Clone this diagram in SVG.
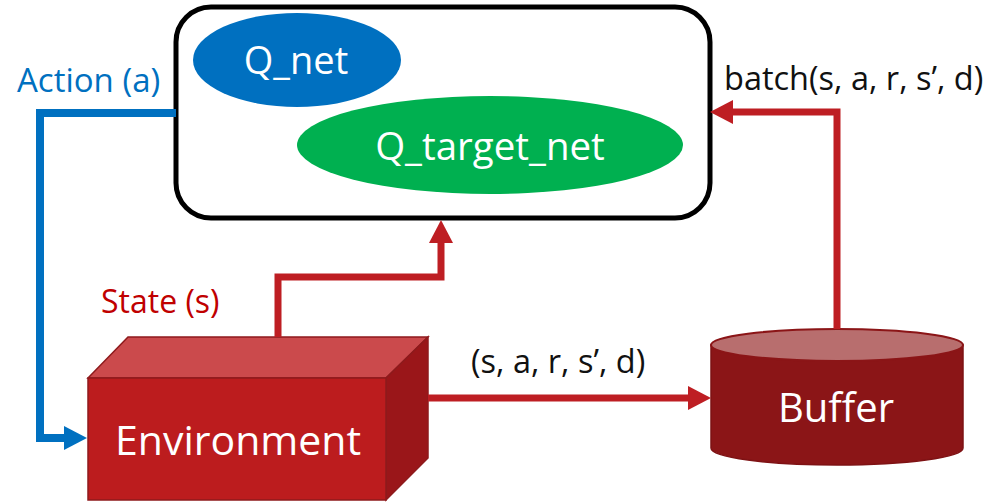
<svg xmlns="http://www.w3.org/2000/svg" width="986" height="502" viewBox="0 0 986 502">
  <style>
    .lbl { font-family: "Open Sans", "Noto Sans", "Liberation Sans", sans-serif; }
    .wht { fill: #ffffff; }
    .blk { fill: #111111; }
    .red-line { fill: none; stroke: #BE1E23; stroke-width: 7; }
    .blue-line { fill: none; stroke: #0070C0; stroke-width: 8; }
  </style>
  <defs>
    <marker id="arrow-red" markerUnits="userSpaceOnUse" markerWidth="24" markerHeight="24" refX="0" refY="12" orient="auto" viewBox="0 0 24 24">
      <path d="M0,0 L23,12 L0,24 Z" fill="#BE1E23"/>
    </marker>
    <marker id="arrow-blue" markerUnits="userSpaceOnUse" markerWidth="24" markerHeight="24" refX="0" refY="12" orient="auto" viewBox="0 0 24 24">
      <path d="M0,0 L23,12 L0,24 Z" fill="#0070C0"/>
    </marker>
  </defs>

  <rect width="986" height="502" fill="#ffffff"/>

  <!-- agent box with the two networks -->
  <g id="agent">
    <rect x="176" y="7" width="534" height="211" rx="35" ry="35" fill="#ffffff" stroke="#000000" stroke-width="5"/>
  </g>
  <g id="q-net">
    <ellipse cx="297" cy="60" rx="104" ry="47" fill="#0070C0"/>
    <text class="lbl wht" x="296" y="74" font-size="38" text-anchor="middle">Q_net</text>
  </g>
  <g id="q-target-net">
    <ellipse cx="490" cy="145" rx="193" ry="49" fill="#00B050"/>
    <text class="lbl wht" x="490" y="160" font-size="38.5" text-anchor="middle">Q_target_net</text>
  </g>

  <!-- environment block -->
  <g id="environment">
    <polygon points="88,378 128,337 428,337 386,378" fill="#CB4A4C" stroke="#8E1A1C" stroke-width="1.5"/>
    <polygon points="386,378 428,337 428,458 386,500" fill="#9A1619" stroke="#8E1A1C" stroke-width="1.5"/>
    <rect x="88" y="378" width="298" height="122" fill="#BC1C1E" stroke="#8E1A1C" stroke-width="1.5"/>
    <text class="lbl wht" x="238" y="455" font-size="41" text-anchor="middle">Environment</text>
  </g>

  <!-- replay buffer -->
  <g id="buffer">
    <path d="M711,345 L711,448 A126,17 0 0 0 963,448 L963,345 Z" fill="#8B1517" stroke="#7E1214" stroke-width="1.5"/>
    <ellipse cx="837" cy="345" rx="126" ry="16" fill="#B86E6E" stroke="#8B1517" stroke-width="2"/>
    <text class="lbl wht" x="836" y="422" font-size="40" text-anchor="middle">Buffer</text>
  </g>

  <!-- connectors -->
  <g id="connectors">
    <path class="blue-line" d="M176,113 L40,113 L40,438 L64,438" marker-end="url(#arrow-blue)"/>
    <path class="red-line" d="M278,337 L278,277 L441,277 L441,243" marker-end="url(#arrow-red)"/>
    <path class="red-line" d="M428,398 L688,398" marker-end="url(#arrow-red)"/>
    <path class="red-line" d="M837,329 L837,112 L733,112" marker-end="url(#arrow-red)"/>
  </g>

  <!-- connector labels -->
  <g id="labels">
    <text class="lbl" x="17" y="92" font-size="33" fill="#0070C0">Action (a)</text>
    <text class="lbl" x="101" y="313" font-size="32" fill="#C00000">State (s)</text>
    <text class="lbl blk" x="471" y="373" font-size="32.5">(s, a, r, s’, d)</text>
    <text class="lbl blk" x="724" y="90" font-size="32.5">batch(s, a, r, s’, d)</text>
  </g>
</svg>
